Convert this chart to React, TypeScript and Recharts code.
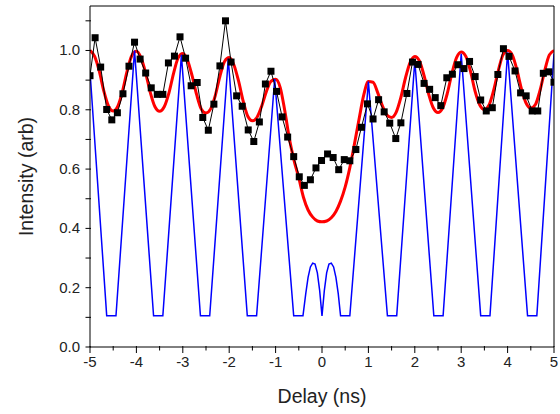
import { LineChart, Line, XAxis, YAxis } from "recharts";

// measured points (black squares)
const delay = [
  -5.0, -4.89, -4.77, -4.64, -4.53, -4.41, -4.29, -4.16, -4.04, -3.92,
  -3.8, -3.68, -3.55, -3.43, -3.31, -3.18, -3.06, -2.94, -2.82, -2.69,
  -2.57, -2.45, -2.33, -2.2, -2.08, -1.96, -1.84, -1.72, -1.59, -1.47,
  -1.35, -1.22, -1.1, -0.98, -0.86, -0.74, -0.61, -0.49, -0.38, -0.25,
  -0.13, -0.01, 0.12, 0.24, 0.36, 0.48, 0.6, 0.73, 0.85, 0.98,
  1.1, 1.22, 1.34, 1.46, 1.59, 1.7, 1.83, 1.95, 2.07, 2.2,
  2.32, 2.44, 2.56, 2.69, 2.81, 2.93, 3.06, 3.18, 3.3, 3.42,
  3.54, 3.67, 3.79, 3.91, 4.03, 4.16, 4.28, 4.4, 4.53, 4.65,
  4.77, 4.89, 5.0,
];
const measured = [
  0.915, 1.043, 0.944, 0.801, 0.766, 0.79, 0.854, 0.947, 1.028, 0.971,
  0.924, 0.874, 0.852, 0.852, 0.958, 0.981, 1.046, 0.974, 0.881, 0.892,
  0.774, 0.731, 0.819, 0.948, 1.1, 0.961, 0.847, 0.812, 0.732, 0.693,
  0.759, 0.887, 0.93, 0.862, 0.776, 0.708, 0.642, 0.574, 0.545, 0.564,
  0.604, 0.629, 0.651, 0.639, 0.598, 0.632, 0.628, 0.666, 0.741, 0.82,
  0.769, 0.834, 0.793, 0.755, 0.703, 0.756, 0.855, 0.961, 0.953, 0.889,
  0.869, 0.841, 0.814, 0.908, 0.92, 0.952, 0.939, 0.963, 0.912, 0.833,
  0.796, 0.807, 0.919, 1.006, 0.98, 0.931, 0.857, 0.847, 0.796, 0.796,
  0.923, 0.928, 0.893,
];

// fitted curve (red)
const fitX = [
  -5.0, -4.9, -4.8, -4.7, -4.6, -4.5, -4.4, -4.3, -4.2, -4.1,
  -4.0, -3.9, -3.8, -3.7, -3.6, -3.5, -3.4, -3.3, -3.2, -3.1,
  -3.0, -2.9, -2.8, -2.7, -2.6, -2.5, -2.4, -2.3, -2.2, -2.1,
  -2.0, -1.9, -1.8, -1.7, -1.6, -1.5, -1.4, -1.3, -1.2, -1.1,
  -1.0, -0.9, -0.8, -0.7, -0.6, -0.5, -0.4, -0.3, -0.2, -0.1,
  0.0, 0.1, 0.2, 0.3, 0.4, 0.5, 0.6, 0.7, 0.8, 0.9,
  1.0, 1.1, 1.2, 1.3, 1.4, 1.5, 1.6, 1.7, 1.8, 1.9,
  2.0, 2.1, 2.2, 2.3, 2.4, 2.5, 2.6, 2.7, 2.8, 2.9,
  3.0, 3.1, 3.2, 3.3, 3.4, 3.5, 3.6, 3.7, 3.8, 3.9,
  4.0, 4.1, 4.2, 4.3, 4.4, 4.5, 4.6, 4.7, 4.8, 4.9,
  5.0,
];
const fitY = [
  1.0, 0.98, 0.93, 0.862, 0.812, 0.796, 0.812, 0.862, 0.93, 0.982,
  0.997, 0.975, 0.924, 0.858, 0.81, 0.795, 0.81, 0.856, 0.922, 0.975,
  0.99, 0.968, 0.915, 0.85, 0.802, 0.789, 0.803, 0.848, 0.913, 0.963,
  0.976, 0.952, 0.898, 0.83, 0.778, 0.763, 0.775, 0.812, 0.861, 0.896,
  0.903, 0.875, 0.795, 0.7, 0.628, 0.57, 0.505, 0.462, 0.438, 0.425,
  0.422, 0.425, 0.436, 0.457, 0.492, 0.54, 0.605, 0.685, 0.77, 0.85,
  0.895, 0.893, 0.858, 0.814, 0.782, 0.774, 0.792, 0.842, 0.908, 0.96,
  0.98, 0.965, 0.915, 0.852, 0.806, 0.791, 0.806, 0.855, 0.923, 0.976,
  0.995, 0.98, 0.93, 0.862, 0.816, 0.801, 0.816, 0.866, 0.932, 0.985,
  1.0, 0.985, 0.935, 0.87, 0.822, 0.806, 0.818, 0.866, 0.932, 0.985,
  1.0,
];

// simulated curve (blue)
const simX = [
  -5.0, -4.64, -4.44, -4.04, -3.63, -3.43, -3.03, -2.62, -2.42, -2.02,
  -1.61, -1.41, -1.02, -0.61, -0.41, -0.35, -0.3, -0.25, -0.2, -0.15,
  -0.1, -0.05, 0.0, 0.05, 0.1, 0.15, 0.2, 0.25, 0.3, 0.35,
  0.4, 0.6, 1.0, 1.41, 1.61, 2.0, 2.41, 2.61, 3.0, 3.42,
  3.62, 4.0, 4.43, 4.63, 5.0,
];
const simY = [
  0.93, 0.105, 0.105, 1.0, 0.105, 0.105, 0.985, 0.105, 0.105, 0.972,
  0.105, 0.105, 0.904, 0.105, 0.105, 0.18, 0.235, 0.27, 0.283, 0.28,
  0.25, 0.19, 0.105, 0.19, 0.25, 0.28, 0.283, 0.27, 0.235, 0.18,
  0.105, 0.105, 0.895, 0.105, 0.105, 0.966, 0.105, 0.105, 0.989, 0.105,
  0.105, 0.994, 0.105, 0.105, 0.99,
];

const xTicks = [
  -5, -4.5, -4, -3.5, -3, -2.5, -2, -1.5, -1, -0.5, 0, 0.5, 1, 1.5, 2, 2.5,
  3, 3.5, 4, 4.5, 5,
];
const yTicks = [0, 0.1, 0.2, 0.3, 0.4, 0.5, 0.6, 0.7, 0.8, 0.9, 1.0, 1.1];

const measuredData = delay.map((x, i) => ({ x, y: measured[i] }));
const fitData = fitX.map((x, i) => ({ x, y: fitY[i] }));
const simData = simX.map((x, i) => ({ x, y: simY[i] }));

const font = "'Liberation Sans', Arial, sans-serif";
const textColor = "#222";

const XTick = ({ x, y, payload }: any) => {
  const major = Number.isInteger(payload.value);
  return (
    <g>
      <line x1={x} x2={x} y1={y - 1} y2={y + (major ? 6 : 3.5)} stroke="#000" />
      {major && (
        <text x={x} y={y + 20} textAnchor="middle" fontSize={15} fontFamily={font} fill={textColor}>
          {payload.value}
        </text>
      )}
    </g>
  );
};

const YTick = ({ x, y, payload }: any) => {
  const tenths = Math.round(payload.value * 10);
  const major = tenths % 2 === 0;
  return (
    <g>
      <line x1={x - 4.5} x2={x + 1} y1={y} y2={y} stroke="#000" />
      {major && (
        <text x={x - 10} y={y + 5} textAnchor="end" fontSize={15} fontFamily={font} fill={textColor}>
          {payload.value.toFixed(1)}
        </text>
      )}
    </g>
  );
};

const Square = ({ cx, cy, index }: any) => (
  <rect key={index} x={cx - 3.5} y={cy - 3.5} width={7} height={7} fill="#000" />
);

export default function App() {
  return (
    <div style={{ position: "absolute", left: 0, top: 0, background: "#fff" }}>
      <LineChart width={560} height={414} margin={{ top: 6, right: 6, bottom: 0, left: 0 }}>
        <XAxis
          type="number"
          dataKey="x"
          domain={[-5, 5]}
          ticks={xTicks}
          interval={0}
          allowDataOverflow
          height={67}
          stroke="#000"
          tickLine={false}
          tickSize={0}
          tickMargin={0}
          tick={<XTick />}
          label={{
            value: "Delay (ns)",
            position: "insideBottom",
            offset: 11,
            style: { fontSize: 19.5, fontFamily: font, fill: textColor },
          }}
        />
        <XAxis
          xAxisId="top"
          orientation="top"
          type="number"
          dataKey="x"
          domain={[-5, 5]}
          ticks={xTicks}
          interval={0}
          height={1}
          mirror
          tickSize={3}
          tick={false}
          stroke="#000"
        />
        <YAxis
          type="number"
          domain={[0, 1.15]}
          ticks={yTicks}
          interval={0}
          allowDataOverflow
          width={90}
          stroke="#000"
          tickLine={false}
          tickSize={0}
          tickMargin={0}
          tick={<YTick />}
          label={{
            value: "Intensity (arb)",
            angle: -90,
            position: "insideLeft",
            offset: 26,
            style: { fontSize: 19.5, fontFamily: font, fill: textColor, textAnchor: "middle" },
          }}
        />
        <YAxis
          yAxisId="right"
          orientation="right"
          type="number"
          domain={[0, 1.15]}
          ticks={yTicks}
          interval={0}
          width={1}
          mirror
          tickSize={3}
          tick={false}
          stroke="#000"
        />
        <Line
          data={fitData}
          dataKey="y"
          type="monotone"
          stroke="#ff0000"
          strokeWidth={3}
          dot={false}
          isAnimationActive={false}
        />
        <Line
          data={simData}
          dataKey="y"
          type="linear"
          stroke="#0000ff"
          strokeWidth={1.5}
          dot={false}
          isAnimationActive={false}
        />
        <Line
          data={measuredData}
          dataKey="y"
          type="linear"
          stroke="#000"
          strokeWidth={1}
          dot={<Square />}
          isAnimationActive={false}
        />
      </LineChart>
    </div>
  );
}
